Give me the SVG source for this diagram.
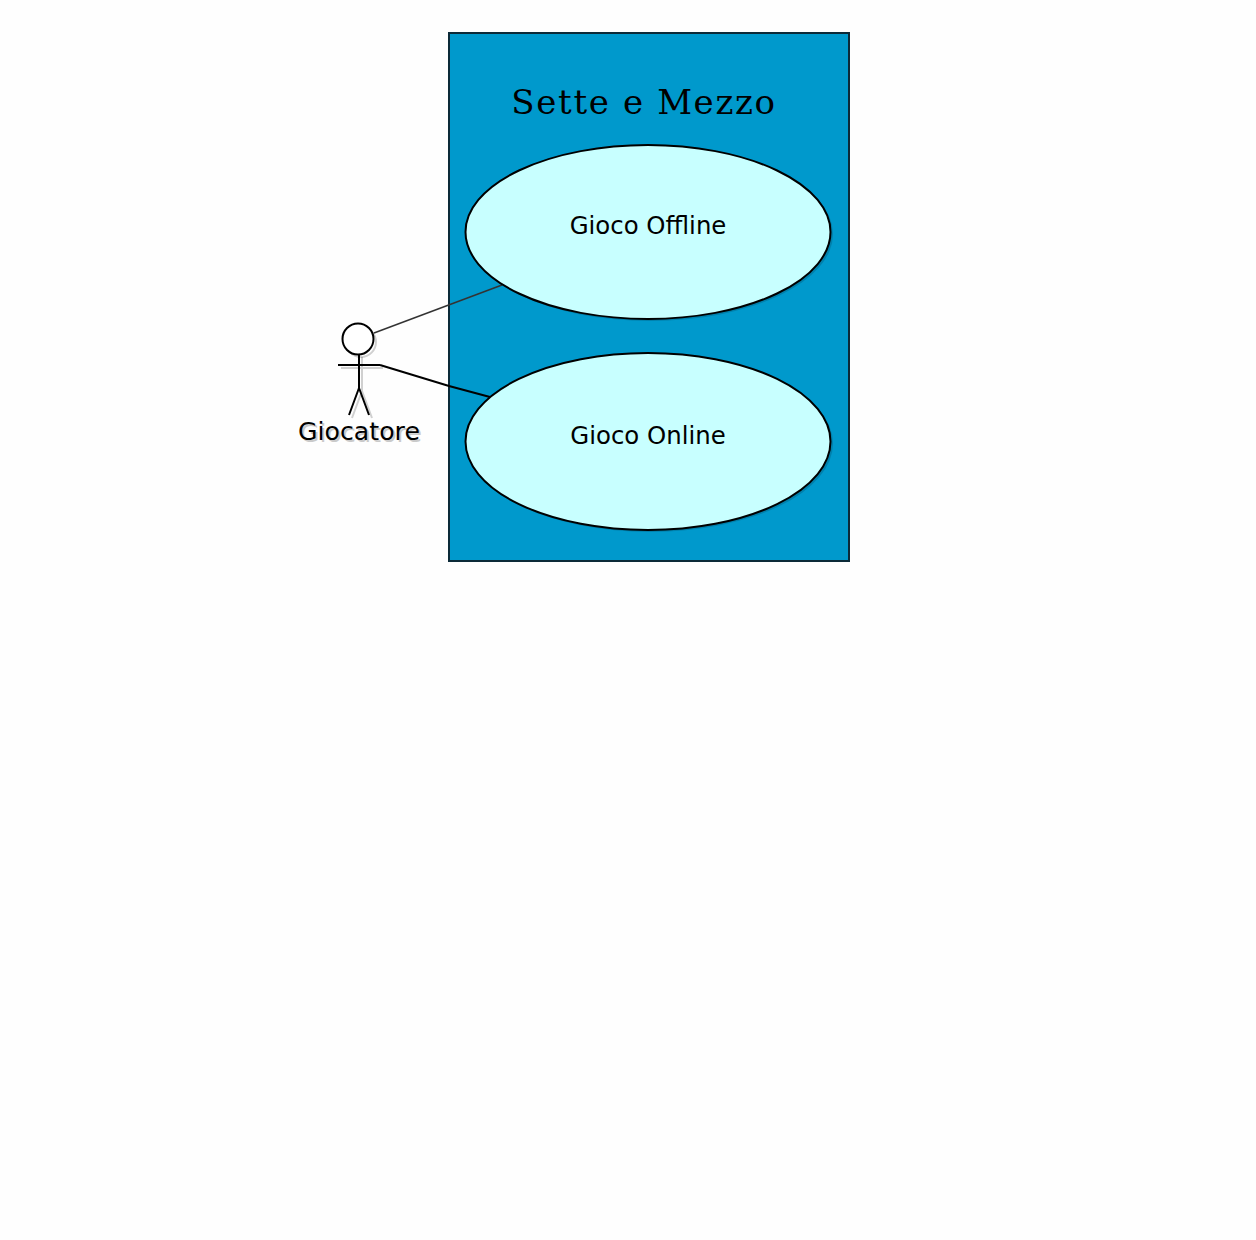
<svg xmlns="http://www.w3.org/2000/svg" width="1256" height="1240" viewBox="0 0 1256 1240">
<style>
.uc{fill:#c8ffff;stroke:#000;stroke-width:2}
.lbl{font-family:"DejaVu Sans",sans-serif;font-size:24.4px;fill:#000;text-anchor:middle}
.act{font-size:25.2px}
.fig{fill:none;stroke:#000;stroke-width:2}
.shadow{fill:none;stroke:#000;stroke-width:2;opacity:.18}
</style>
<rect width="1256" height="1240" fill="#fefefe"/>
<g id="system">
<rect x="449" y="33" width="400" height="528" fill="#0099cc" stroke="#0c2a38" stroke-width="2"/>
<text x="644" y="114" font-family="'DejaVu Serif',serif" font-size="34px" letter-spacing="1.65" text-anchor="middle" fill="#000">Sette e Mezzo</text>
</g>
<g id="connectors">
<path d="M374 333L502 285" fill="none" stroke="#333" stroke-width="1.5"/>
<path d="M380 365L449 386L490 397" fill="none" stroke="#000" stroke-width="2"/>
</g>
<g id="uc-offline">
<ellipse cx="650" cy="234" rx="183" ry="87" fill="#006f96" opacity=".6"/>
<ellipse class="uc" cx="648" cy="232" rx="182.500" ry="87"/>
<text class="lbl" x="648" y="234">Gioco Offline</text>
</g>
<g id="uc-online">
<ellipse cx="650" cy="443.500" rx="183" ry="88.500" fill="#006f96" opacity=".6"/>
<ellipse class="uc" cx="648" cy="441.500" rx="182.500" ry="88.500"/>
<text class="lbl" x="648" y="444">Gioco Online</text>
</g>
<g id="actor">
<g transform="translate(3 3)">
<circle class="shadow" cx="358" cy="339" r="15"/>
<path class="shadow" d="M338 365H380M359 354V388M359 388L349 415M359 388L369 415"/>
</g>
<circle cx="358" cy="339" r="15.500" fill="#fff" stroke="#000" stroke-width="2"/>
<path class="fig" d="M338 365H380M359 354V388M359 388L349 415M359 388L369 415"/>
<text class="lbl act" x="361" y="442" opacity=".2">Giocatore</text>
<text class="lbl act" x="359" y="440">Giocatore</text>
</g>
</svg>
